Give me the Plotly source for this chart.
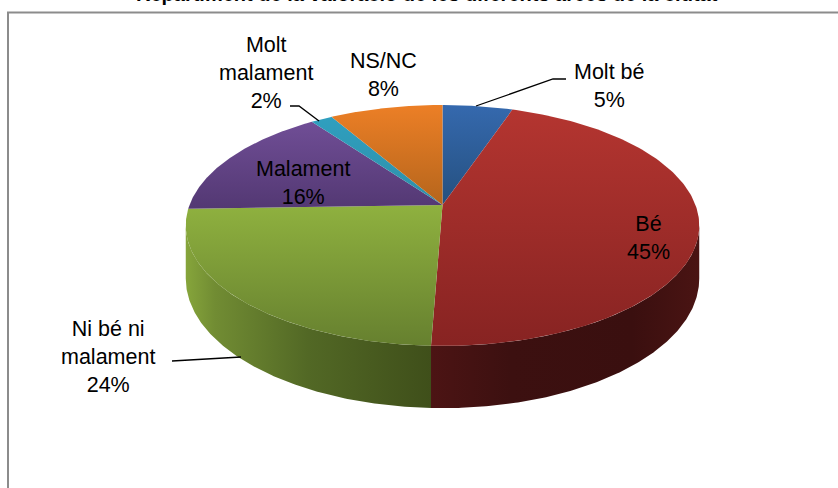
import numpy as np
import plotly.graph_objects as go

# ---- data ----
categories = ["Molt bé", "Bé", "Ni bé ni malament", "Malament", "Molt malament", "NS/NC"]
values = [5.2, 45.4, 23.9, 15.5, 1.6, 8.4]
label_lines = ["Molt bé", "Bé", "Ni bé ni<br>malament", "Malament", "Molt<br>malament", "NS/NC"]
title_text = "Repartiment de la valoració de les diferents àrees de la ciutat"

# ---- style: face gradients (far edge, near edge) and wall gradients ----
face_top = ["#3569AE", "#B43530", "#8FB13F", "#704E96", "#2F9FBF", "#EC7F26"]
face_bot = ["#25507F", "#872322", "#66802F", "#533873", "#2F8FA8", "#B5651C"]
wall_scales = {
    1: [[0, "#4C1414"], [0.3, "#3C1010"], [0.75, "#3A0F0F"], [1, "#4A1413"]],
    2: [[0, "#86A53B"], [0.12, "#718C33"], [0.5, "#526825"], [1, "#3F4F1A"]],
}
label_pos = [(609, 86), (648, 238), (108, 357), (303, 183), (266, 73), (383, 75)]
leaders = [
    [(476, 106), (553, 79), (566, 79)],
    [(172, 361), (241, 357)],
    [(290, 106), (299, 106), (319, 121)],
]

# ---- projected pie geometry ----
CX, CY = 442.5, 205.0
RX, RY, PERSP, DEPTH = 253.0, 117.0, 0.17, 51.6


def project(theta):
    u, v = np.sin(theta), -np.cos(theta)
    s = 1.0 / (1.0 - PERSP * v)
    return CX + RX * u * s, CY + RY * v * s, s


shares = np.array(values) / sum(values)
edges = np.concatenate([[0], np.cumsum(shares)]) * 2 * np.pi
wall_lo, wall_hi = np.arccos(-PERSP), 2 * np.pi - np.arccos(-PERSP)

fig = go.Figure()

# side walls
for i in range(len(values)):
    a, b = max(edges[i], wall_lo), min(edges[i + 1], wall_hi)
    if b <= a:
        continue
    th = np.linspace(a, b, 160)
    x, y, s = project(th)
    xs = np.concatenate([x, x[::-1]])
    ys = np.concatenate([y, (y + DEPTH * s)[::-1]])
    fig.add_trace(go.Scatter(
        x=xs, y=ys, mode="lines", fill="toself", line=dict(width=0),
        fillgradient=dict(type="horizontal", colorscale=wall_scales[i],
                          start=float(xs.min()), stop=float(xs.max())),
        hoverinfo="skip", showlegend=False, name=categories[i]))

# top faces
for i in range(len(values)):
    th = np.linspace(edges[i], edges[i + 1], 160)
    x, y, _ = project(th)
    xs = np.concatenate([[CX], x, [CX]])
    ys = np.concatenate([[CY], y, [CY]])
    fig.add_trace(go.Scatter(
        x=xs, y=ys, mode="lines", fill="toself", line=dict(width=0),
        fillgradient=dict(type="vertical",
                          colorscale=[[0, face_top[i]], [1, face_bot[i]]],
                          start=float(ys.min()), stop=float(ys.max())),
        hoverinfo="skip", showlegend=False, name=categories[i]))

# leader lines
for pts in leaders:
    fig.add_trace(go.Scatter(
        x=[p[0] for p in pts], y=[p[1] for p in pts], mode="lines",
        line=dict(color="#000000", width=1.3), hoverinfo="skip", showlegend=False))

annotations = [
    dict(x=427, y=7, xref="x", yref="y", text=f"<b>{title_text}</b>", showarrow=False,
         xanchor="center", yanchor="bottom",
         font=dict(family="Liberation Sans", size=20, color="#000000"))
]
for txt, val, (lx, ly) in zip(label_lines, values, label_pos):
    annotations.append(dict(
        x=lx, y=ly, xref="x", yref="y", text=f"{txt}<br>{round(val)}%", showarrow=False,
        xanchor="center", yanchor="middle", align="center",
        font=dict(family="Liberation Sans", size=21.5, color="#000000")))

axis = dict(visible=False, fixedrange=True, showgrid=False, zeroline=False)
fig.update_layout(
    width=838, height=488, margin=dict(l=0, r=0, t=0, b=0),
    paper_bgcolor="#FFFFFF", plot_bgcolor="#FFFFFF", showlegend=False,
    xaxis=dict(range=[0, 838], **axis),
    yaxis=dict(range=[488, 0], **axis),
    annotations=annotations,
    shapes=[dict(type="rect", xref="x", yref="y", x0=8, x1=900, y0=12.5, y1=560,
                 line=dict(color="#8C8C8C", width=2), layer="below")],
)
fig.write_html("out.html", config={"displayModeBar": False},
               post_script="document.body.style.margin='0';")
